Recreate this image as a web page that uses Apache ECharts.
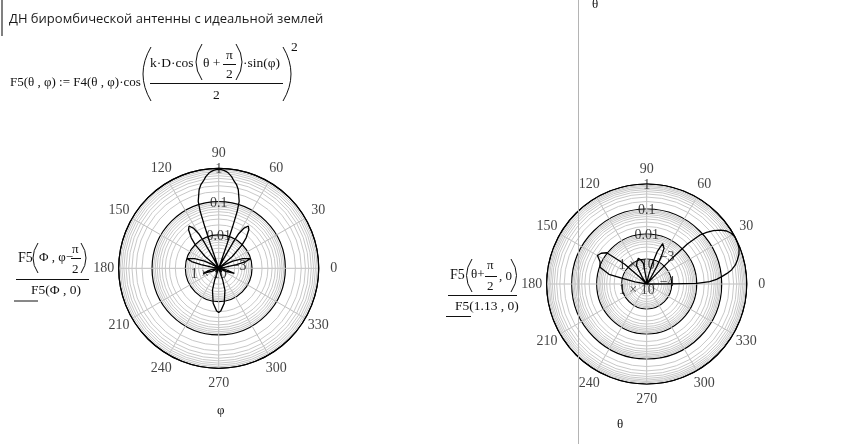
<!DOCTYPE html>
<html><head><meta charset="utf-8">
<style>html,body{margin:0;padding:0;background:#fff}#c{width:843px;height:444px}</style>
<script src="https://cdn.jsdelivr.net/npm/echarts@6/dist/echarts.min.js"></script>
</head><body><div id="c"></div>
<script>
const angleTicks = [0, 30, 60, 90, 120, 150, 180, 210, 240, 270, 300, 330];
const ringAngles = [0,10,20,30,40,50,60,70,80,90,100,110,120,130,140,150,160,170,180,190,200,210,220,230,240,250,260,270,280,290,300,310,320,330,340,350,360];
const minorMultipliers = [2,3,4,5,6,7,8,9];
const leftDecades = [0.001, 0.01, 0.1];
const rightDecades = [0.0001, 0.001, 0.01, 0.1];
const leftTickLabels = [1, 0.1, 0.01, 0.001];
const rightTickLabels = [1, 0.1, 0.01, 0.001, 0.0001];

const leftAngles = [0,8,10,12,14,17,22,27,30,36,38,41,45,48,52,55,58,60,61,63,70,71,71.5,72,73,76,78,80.5,82,84,85.5,87,88.5,90,91.5,93,94.5,96,98,99.5,102,104,107,108,108.5,109,110,117,119,120,122,125,128,132,135,139,142,144,150,153,158,163,166,168,170,172,180,185,190,198,204,210,215,230,245,248,251,254,261,267,270,273,279,286,289,292,295,310,325,330,336,342,348,355,360];
const leftValues = [.001,.001,.0015,.0035,.0069,.0098,.006,.003,.0017,.001,.001,.00347,.0098,.017,.0295,.0355,.0257,.0158,.0074,.002,.001,.0056,.0209,.063,.126,.269,.37,.484,.6,.733,.813,.87,.912,.934,.912,.87,.813,.733,.6,.484,.37,.269,.126,.063,.0209,.0056,.001,.002,.0074,.0158,.0257,.0355,.0295,.017,.0098,.00347,.001,.001,.0017,.003,.006,.0098,.0069,.0035,.0015,.001,.001,.001,.0017,.00312,.0017,.001,.001,.0014,.001,.001,.0023,.00477,.0115,.0187,.0213,.0187,.0115,.00477,.0023,.001,.001,.0014,.001,.001,.0017,.00312,.0017,.001,.001];

const rightAngles = [0,0.5,0.8,2.1,3.8,5.6,7.5,9.4,12,14.8,18,21.1,24.5,28.2,31,33.5,36,38.7,40.7,42.6,44.5,45.5,46,47,52,57,60,62,64,68.5,72,75,78,80,85,95,99,104,108,114,119,124,127,130,136,138,142,146,150,154.4,160.3,165.6,167,170,175,180,360];
const rightValues = [.0001,.001,.01,.0331,.0631,.104,.174,.275,.417,.565,.759,.912,.98,1,.871,.692,.457,.261,.145,.0787,.019,.003,.000575,.0001,.0001,.00021,.00063,.00174,.00384,.0055,.00229,.00063,.00021,.0001,.0001,.000158,.00069,.001,.0012,.00091,.00069,.00021,.0001,.0001,.00025,.00158,.0107,.0158,.0189,.0117,.0096,.0036,.00106,.0003,.0001,.0001,.0001];

const AXIS_FONT = '"Liberation Serif", serif';
function radialLabel(v){
  if (v >= 0.01) return String(v);
  const e = Math.round(Math.log10(v));
  return '{m|1 \u00d7 10}{s|\u2212' + (-e) + '}';
}
function angleAxis(i){
  return {polarIndex:i, type:'value', min:0, max:360, interval:30, startAngle:0, clockwise:false,
    axisLine:{show:true, lineStyle:{color:'#000', width:1.2}},
    axisTick:{show:false},
    axisLabel:{show:false},
    splitLine:{show:true, lineStyle:{color:'#bdbdbd', width:1}}};
}
function radiusAxis(i, min){
  return {polarIndex:i, type:'log', logBase:10, min:min, max:1,
    axisLine:{show:false}, axisTick:{show:false}, axisLabel:{show:false},
    splitLine:{show:true, lineStyle:{color:'#000', width:1.2}}};
}
function ringSeries(i, decades){
  const out = [];
  decades.forEach(d => minorMultipliers.forEach(m => {
    out.push({type:'line', coordinateSystem:'polar', polarIndex:i, silent:true, symbol:'none', z:1,
      lineStyle:{color:'#c8c8c8', width:1},
      data:ringAngles.map(a=>[d*m, a])});
  }));
  return out;
}
function curve(i, angles, values){
  return {type:'line', coordinateSystem:'polar', polarIndex:i, symbol:'none', z:5, clip:false,
    smooth:false, lineStyle:{color:'#000', width:1.3},
    data:angles.map((a,k)=>[values[k], a])};
}
function tickLabelSeries(i, values){
  return {type:'scatter', coordinateSystem:'polar', polarIndex:i, symbolSize:0, silent:true, z:8, clip:false,
    data:values.map(v=>({value:[v,90], label:{offset:[0, v<0.005 ? 6 : 1.5]}})),
    label:{show:true, position:'inside', color:'#111', fontFamily:AXIS_FONT, fontSize:14,
      formatter:p=>radialLabel(p.value[0]),
      rich:{m:{fontFamily:AXIS_FONT, fontSize:14, color:'#111'},
            s:{fontFamily:AXIS_FONT, fontSize:14, color:'#111', padding:[0,0,16,5]}}}};
}
function angleLabelSeries(i, labelRadius){
  return {type:'scatter', coordinateSystem:'polar', polarIndex:i, symbolSize:0, silent:true, z:8, clip:false,
    data:angleTicks.map(a=>[labelRadius, a]),
    label:{show:true, position:'inside', color:'#111', fontFamily:AXIS_FONT, fontSize:14,
      formatter:p=>String(p.value[1])}};
}
const S = '"Liberation Serif", serif';
function t(x,y,text,size,extra){
  return {type:'text', x:x, y:y, silent:true, z:20,
    style:Object.assign({text:text, fontFamily:S, fontSize:size||13, fill:'#111', align:'left', verticalAlign:'middle'}, extra||{})};
}
function ln(x1,y1,x2,y2,color,w){
  return {type:'line', silent:true, z:20, shape:{x1,y1,x2,y2}, style:{stroke:color||'#111', lineWidth:w||1}};
}
function paren(x, top, bottom, bulge){
  return {type:'bezierCurve', silent:true, z:20,
    shape:{x1:x, y1:top, x2:x, y2:bottom, cpx1:x+bulge, cpy1:(top+bottom)/2},
    style:{stroke:'#111', lineWidth:1, fill:'none'}};
}
const graphics = [
  ln(2,0,2,36,'#808080',2),
  ln(578.5,0,578.5,444,'#b4b4b4',1),
  t(9,19,'ДН биромбической антенны с идеальной землей',13,{fontFamily:'"Open Sans", sans-serif', fill:'#1a1a1a'}),
  t(10,83,'F5(\u03b8 , \u03c6) := F4(\u03b8 , \u03c6)\u00b7cos',13),
  t(150,63,'k\u00b7D\u00b7cos',13.5),
  paren(202,44,80,-12),
  t(203,63,'\u03b8 +',13.5),
  t(226,55,'\u03c0',13.5),
  ln(223,64.5,236,64.5),
  t(226,74,'2',13.5),
  paren(236,44,80,12),
  t(243,63,'\u00b7sin(\u03c6)',13.5),
  ln(150,83.5,283,83.5),
  t(213,95,'2',13.5),
  paren(151,47,101,-16),
  paren(283,47,101,16),
  t(291,47,'2',13.5),
  t(18,258,'F5',14),
  paren(38,243,273,-10),
  t(39,258,'\u03a6 , \u03c6\u2212',13),
  t(72,250,'\u03c0',13),
  ln(71,258.5,81,258.5),
  t(72,270,'2',13),
  paren(81,243,273,10),
  ln(16,279.5,89,279.5,'#111',1),
  t(31,290,'F5(\u03a6 , 0)',13.5),
  ln(14,301,38,301,'#111',1),
  t(450,275,'F5',14),
  paren(472,259,292,-11),
  t(471,275,'\u03b8+',13),
  t(487,266,'\u03c0',13),
  ln(485,276.5,497,276.5),
  t(487,287,'2',13),
  t(499,277,', 0',13),
  paren(511,259,292,11),
  ln(448,295.5,517,295.5,'#111',1),
  t(455,306,'F5(1.13 , 0)',13.5),
  ln(446,316.5,471,316.5,'#111',1),
  t(217,411,'\u03c6',13),
  t(617,425,'\u03b8',13),
  t(592,5,'\u03b8',13)
];
const option = {
  backgroundColor:'#fff', animation:false,
  polar:[{center:[218.7,268.3], radius:100}, {center:[646.7,284], radius:100}],
  angleAxis:[angleAxis(0), angleAxis(1)],
  radiusAxis:[radiusAxis(0,0.001), radiusAxis(1,0.0001)],
  series:[].concat(ringSeries(0,leftDecades), ringSeries(1,rightDecades),
    [curve(0,leftAngles,leftValues), curve(1,rightAngles,rightValues),
     tickLabelSeries(0,leftTickLabels), tickLabelSeries(1,rightTickLabels),
     angleLabelSeries(0,2.82), angleLabelSeries(1,3.98)]),
  graphic:{elements:graphics}
};
echarts.init(document.getElementById('c'),null,{renderer:'canvas'}).setOption(option);
</script></body></html>
